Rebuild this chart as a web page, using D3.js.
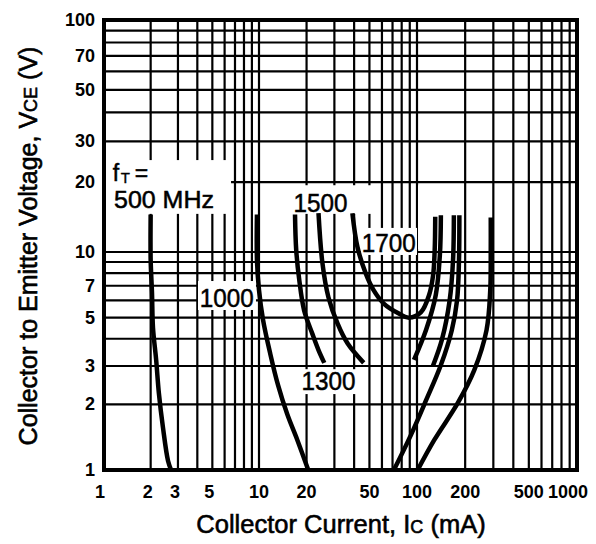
<!DOCTYPE html>
<html><head><meta charset="utf-8">
<script src="https://cdn.jsdelivr.net/npm/d3@7"></script>
<style>
html,body{margin:0;padding:0;background:#fff;}
text{font-family:"Liberation Sans",Arial,Helvetica,sans-serif;fill:#000;}
</style></head>
<body>
<svg id="c" width="596" height="544"></svg>
<script>
// ---- data ----
const xTicks = [1,2,3,5,10,20,50,100,200,500,1000];
const yTicks = [1,2,3,5,7,10,20,30,50,70,100];
const xGrid = [1,2,3,4,5,6,7,8,9,10,20,30,40,50,60,70,80,90,100,200,300,400,500,600,700,800,900,1000];
const yGrid = [1,2,3,4,5,6,7,8,9,10,20,30,40,50,60,70,80,90,100];

// fT contours: [Ic (mA), VCE (V)]
const ft500Left  = [[2.0,14.5],[2.0,9.2],[2.04,6.5],[2.07,4.5],[2.17,3.2],[2.26,2.25],[2.4,1.57],[2.59,1.1],[2.71,1]];
const ft500Right = [[101,1],[128,1.37],[180,2.03],[228,2.87],[272,4.38],[287,6.7],[289,10.2],[289,14.1]];
const ft1000Left = [[9.7,14.5],[9.7,9.2],[10,6.7],[10.6,4.9],[11.8,3.4],[13.2,2.45],[15.1,1.8],[17.5,1.37],[20.5,1]];
const ft1000Right= [[71.4,1],[91.6,1.45],[114,2.09],[141,3.03],[165,4.38],[178,6.0],[183,9.2],[184,14.4]];
const ft1300Left = [[16.9,14.5],[17.2,10.2],[18,7.4],[19.3,5.4],[21.8,4.2],[23.8,3.55],[25.9,3.1]];
const ft1300Right= [[125.7,3.0],[143,3.95],[160,6.0],[168,9.2],[170,14.4]];
const ft1500Left = [[23.8,14.7],[25.2,8.9],[27.5,6.2],[31.4,4.7],[36.4,3.8],[46,3.1]];
const ft1500Right= [[95.7,3.2],[114,4.4],[131,6.35],[139,9.7],[141,14.4]];
const ft1700     = [[39,14.7],[42,10.5],[47.3,8],[53,6.7],[61.6,5.8],[75.7,5.25],[89,5],[106,5.3],[119,6.35],[126,7.8],[129,10.2],[130,14.2]];

const curves = [ft500Left, ft500Right, ft1000Left, ft1000Right, ft1300Left, ft1300Right, ft1500Left, ft1500Right, ft1700];
const curveNames = ["1000","1300","1500","1700"];

// ---- scales ----
const x = d3.scaleLog().domain([1,10,100,1000]).range([104,259,417,577]);
const y = d3.scaleLog().domain([1,10,100]).range([470,252,20]);

const svg = d3.select("#c");

// grid
const g = svg.append("g");
g.selectAll("line.v").data(xGrid).join("line")
  .attr("x1",d=>x(d)).attr("x2",d=>x(d)).attr("y1",y(1)).attr("y2",y(100))
  .attr("stroke","#000").attr("stroke-width",2.2);
g.selectAll("line.h").data(yGrid).join("line")
  .attr("y1",d=>y(d)).attr("y2",d=>y(d)).attr("x1",x(1)).attr("x2",x(1000))
  .attr("stroke","#000").attr("stroke-width",2.2);

// white label areas (in data coords)
const masks = [
  [1.03,6.6,14.6,24.9],
  [15.5,55.6,14.6,19.4],
  [101.5,194,10.3,19.4],
  [44,100,9.69,12.7],
  [4.04,9.56,5.42,7.36],
  [18,42,2.23,2.9]
];
svg.append("g").selectAll("rect").data(masks).join("rect")
  .attr("x",d=>x(d[0])).attr("width",d=>x(d[1])-x(d[0]))
  .attr("y",d=>y(d[3])).attr("height",d=>y(d[2])-y(d[3]))
  .attr("fill","#fff");

// curves
const line = d3.line().x(d=>x(d[0])).y(d=>y(d[1])).curve(d3.curveCatmullRom.alpha(0.5));
svg.append("g").selectAll("path").data(curves).join("path")
  .attr("d",line).attr("fill","none").attr("stroke","#000")
  .attr("stroke-width",4.5).attr("stroke-linecap","butt");

// border
svg.append("rect").attr("x",x(1)).attr("y",y(100))
  .attr("width",x(1000)-x(1)).attr("height",y(1)-y(100))
  .attr("fill","none").attr("stroke","#000").attr("stroke-width",4);

// tick labels
svg.append("g").selectAll("text").data(xTicks).join("text")
  .attr("x",d=>x(d) + (d===1000?-9:(d<10&&d>1?-3:(d===1?-4:0))))
  .attr("y",498).attr("text-anchor","middle")
  .attr("font-size",18).attr("font-weight","bold").text(d=>d);
svg.append("g").selectAll("text").data(yTicks).join("text")
  .attr("x",95).attr("y",d=>y(d)+6).attr("text-anchor","end")
  .attr("font-size",18).attr("font-weight","bold").text(d=>d);

// curve labels
const labelAt = [[6.2,5.6],[27.5,2.33],[24.5,14.9],[66.3,10]];
svg.append("g").selectAll("text").data(curveNames).join("text")
  .attr("x",(d,i)=>x(labelAt[i][0])).attr("y",(d,i)=>y(labelAt[i][1]))
  .attr("text-anchor","middle").attr("font-size",26)
  .attr("textLength",54).attr("lengthAdjust","spacingAndGlyphs")
  .attr("stroke","#000").attr("stroke-width",0.5)
  .text(d=>d);

// fT = 500 MHz
const fx = x(1.14), fy = y(20.2);
svg.append("text").attr("x",fx).attr("y",fy).attr("font-size",23)
  .attr("stroke","#000").attr("stroke-width",0.5).text("f");
svg.append("text").attr("x",fx+8).attr("y",fy+2).attr("font-size",15)
  .attr("stroke","#000").attr("stroke-width",0.4).text("T");
svg.append("text").attr("x",fx+22).attr("y",fy).attr("font-size",23)
  .attr("stroke","#000").attr("stroke-width",0.5).text("=");
svg.append("text").attr("x",x(1.16)).attr("y",y(15.5))
  .attr("font-size",23).attr("textLength",100).attr("lengthAdjust","spacingAndGlyphs")
  .attr("stroke","#000").attr("stroke-width",0.5).text("500 MHz");

// axis titles
const xt = svg.append("text").attr("x",341).attr("y",533).attr("text-anchor","middle")
  .attr("font-size",25.5).attr("stroke","#000").attr("stroke-width",0.6);
xt.append("tspan").text("Collector Current, I");
xt.append("tspan").attr("font-size",18).text("C");
xt.append("tspan").text(" (mA)");

const yt = svg.append("text").attr("transform","translate(37,246) rotate(-90)")
  .attr("text-anchor","middle").attr("font-size",25).attr("stroke","#000").attr("stroke-width",0.6);
yt.append("tspan").text("Collector to Emitter Voltage, V");
yt.append("tspan").attr("font-size",18).text("CE");
yt.append("tspan").text(" (V)");
</script>
</body></html>
